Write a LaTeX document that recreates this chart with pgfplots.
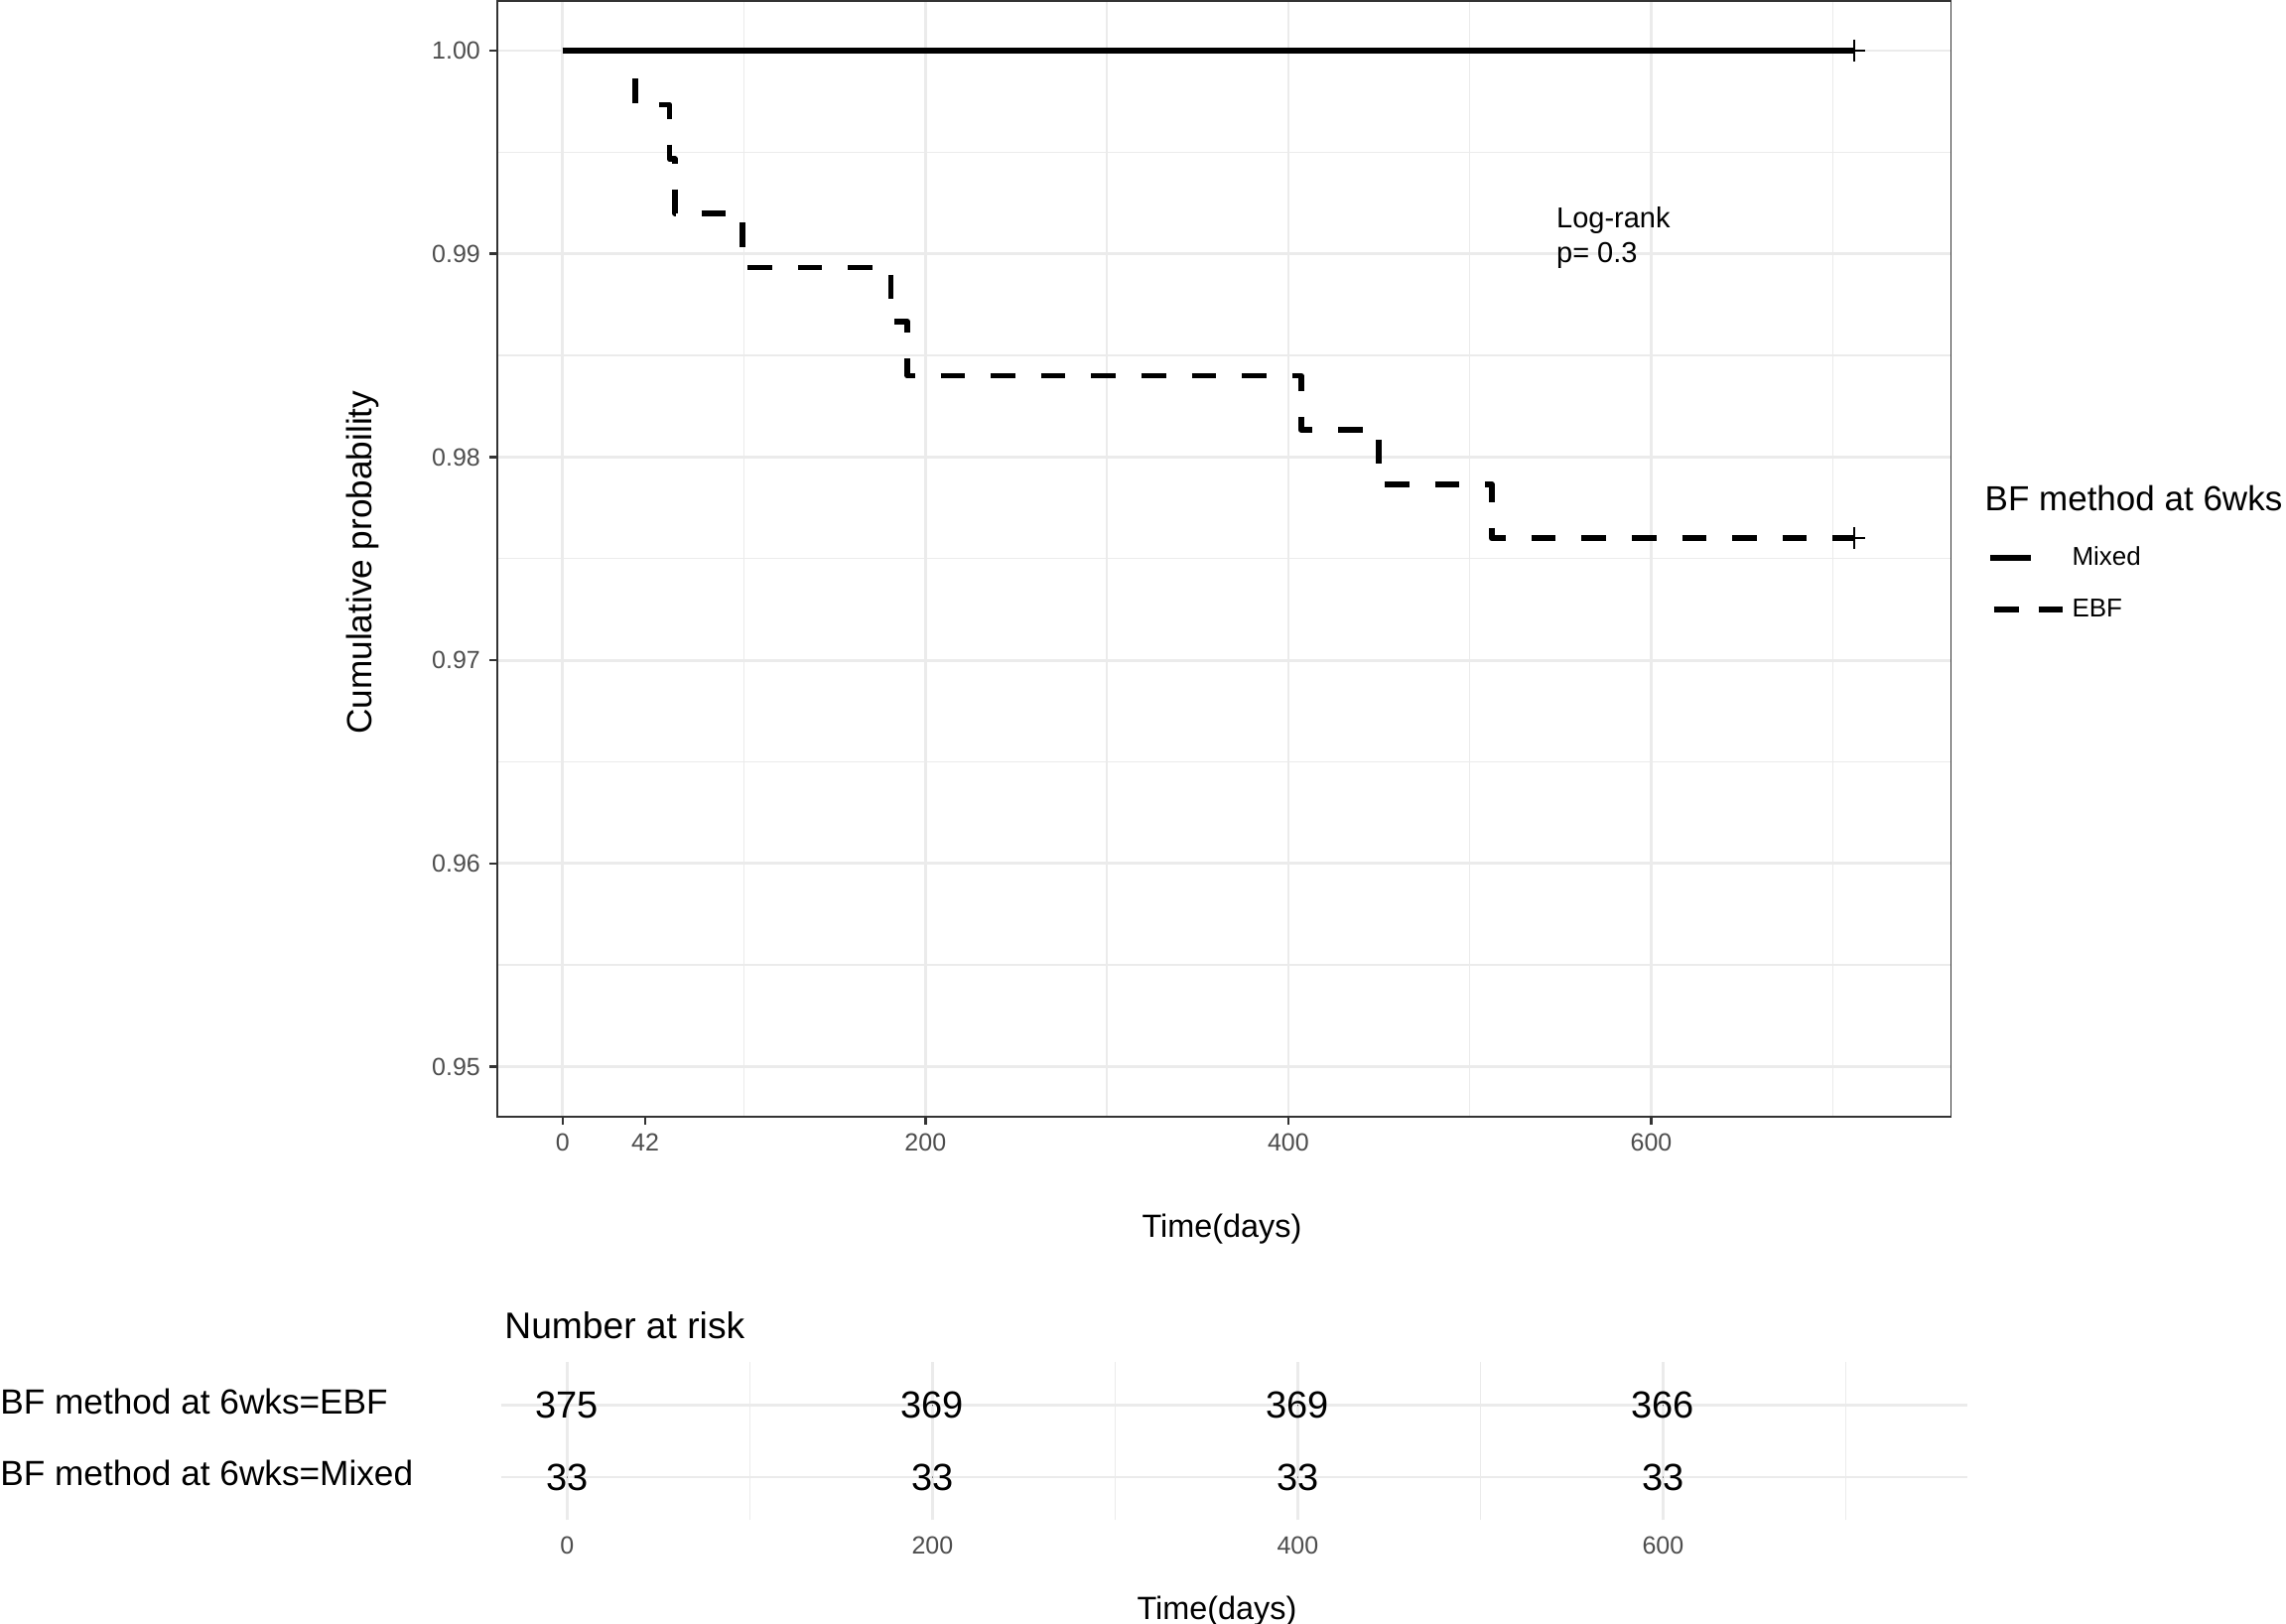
\documentclass[border=0pt]{standalone}
\usepackage{pgfplots}
\pgfplotsset{compat=1.18}
\usepackage{fontspec}
\setmainfont{Liberation Sans}
\definecolor{gridc}{HTML}{EBEBEB}
\definecolor{tickc}{HTML}{4D4D4D}
\definecolor{axc}{HTML}{333333}
\newcommand\fs[1]{\fontsize{#1}{#1}\selectfont}
\pgfplotstableread{
t s
0 1
40 0.997333
59 0.994667
62 0.992
99 0.989333
181 0.986667
190 0.984
407 0.981333
450 0.978667
512 0.976
712 0.976
}\ebf
\pgfplotstableread{
t s
0 1
712 1
}\mixed
\pgfplotstableread{
x y n
0 2 375
200 2 369
400 2 369
600 2 366
0 1 33
200 1 33
400 1 33
600 1 33
}\risk
\begin{document}
\begin{tikzpicture}
\path[use as bounding box] (0pt,0pt) rectangle (1151.5pt,-818pt);
\begin{axis}[
  scale only axis, width=732.25pt, height=562pt,
  at={(250.5pt,-562.5pt)}, anchor=south west,
  xmin=-35.94, xmax=765.2, ymin=0.947533, ymax=1.002443,
  xtick={0,200,400,600}, minor xtick={100,300,500,700},
  extra x ticks={45.6}, extra x tick labels={42},
  extra x tick style={grid=none},
  ytick={0.95,0.96,0.97,0.98,0.99,1.00},
  minor ytick={0.955,0.965,0.975,0.985,0.995},
  /pgf/number format/assume math mode=true,
  yticklabel style={/pgf/number format/fixed, /pgf/number format/fixed zerofill, /pgf/number format/precision=2},
  ticklabel style={font=\fs{12.5}, text=tickc, inner sep=0pt},
  xticklabel style={anchor=north, yshift=-4.35pt},
  yticklabel style={anchor=east, xshift=-4.35pt},
  tick align=outside, tick pos=left,
  major tick length=4pt, minor tick length=0pt,
  tick style={axc, line width=1.2pt},
  grid=both,
  major grid style={gridc, line width=1.4pt},
  minor grid style={gridc, line width=0.7pt},
  axis line style={axc, line width=0.8pt},
  legend style={at={(1.02512,0.51183)}, anchor=north west, draw=none, fill=none,
    inner sep=0pt, outer sep=0pt, row sep=14.3pt, column sep=0pt,
    nodes={inner sep=0pt, font=\fs{13}}},
  legend cell align=left,
]
\addplot[forget plot, const plot, black, line width=2.85pt, line join=round,
  dash pattern=on 12.3pt off 13pt] table[x=t, y=s] {\ebf};
\addplot[forget plot, black, line width=2.85pt] table[x=t, y=s] {\mixed};
\addplot[forget plot, only marks, mark=+, mark size=5.5pt,
  mark options={solid, line width=1pt, black}] coordinates {(712,1) (712,0.976)};
\node[anchor=base west, inner sep=0pt, font=\fs{14.5}] at (axis cs:547.6,0.99129) {Log-rank};
\node[anchor=base west, inner sep=0pt, font=\fs{14.5}] at (axis cs:547.6,0.98955) {p= 0.3};
\addlegendimage{legend image code/.code={
  \path[draw=none, fill=none] (0pt,-6pt) rectangle (41.1pt,6pt);
  \draw[solid, line width=3pt, black] (0pt,0pt) -- (20.5pt,0pt);}}
\addlegendentry{Mixed}
\addlegendimage{legend image code/.code={
  \path[draw=none, fill=none] (0pt,-6pt) rectangle (41.1pt,6pt);
  \draw[solid, line width=3pt, black] (1.7pt,0pt) -- (14.35pt,0pt);
  \draw[solid, line width=3pt, black] (24.2pt,0pt) -- (36.5pt,0pt);}}
\addlegendentry{EBF}
\end{axis}

\begin{axis}[
  scale only axis, width=738.9pt, height=79.5pt,
  at={(252.25pt,-765.7pt)}, anchor=south west,
  xmin=-36.36, xmax=766.8, ymin=0.4, ymax=2.6,
  axis line style={draw=none},
  major tick length=0pt, minor tick length=0pt,
  xtick={0,200,400,600}, minor xtick={100,300,500,700},
  ytick={1,2}, yticklabels={{},{}},
  /pgf/number format/assume math mode=true,
  xticklabel style={font=\fs{12.5}, text=tickc, inner sep=0pt, anchor=north, yshift=-8.3pt},
  xmajorgrids, xminorgrids, ymajorgrids,
  major grid style={gridc, line width=1.4pt},
  minor grid style={gridc, line width=0.8pt},
  clip=false,
]
\addplot[scatter, only marks, point meta=explicit symbolic,
  mark=*, mark size=0.01pt, mark options={draw=none, fill=none},
  scatter/@pre marker code/.code={\node[inner sep=0pt, font=\fs{19}, text=black] {\pgfplotspointmeta};},
  scatter/@post marker code/.code={}]
  table[x=x, y=y, meta=n] {\risk};
\end{axis}

\node[rotate=90, anchor=base, inner sep=0pt, font=\fs{17.6}] at (187pt,-283.35pt) {Cumulative probability};
\node[anchor=base, inner sep=0pt, font=\fs{16.2}] at (615.5pt,-623.35pt) {Time(days)};
\node[anchor=base west, inner sep=0pt, font=\fs{17.5}] at (999.65pt,-257.5pt) {BF method at 6wks};
\node[anchor=base west, inner sep=0pt, font=\fs{18.6}] at (254pt,-674.15pt) {Number at risk};
\node[anchor=base west, inner sep=0pt, font=\fs{17.6}] at (0pt,-712pt) {BF method at 6wks=EBF};
\node[anchor=base west, inner sep=0pt, font=\fs{17.6}] at (0pt,-748pt) {BF method at 6wks=Mixed};
\node[anchor=base, inner sep=0pt, font=\fs{16.2}] at (613pt,-815.5pt) {Time(days)};
\end{tikzpicture}
\end{document}
